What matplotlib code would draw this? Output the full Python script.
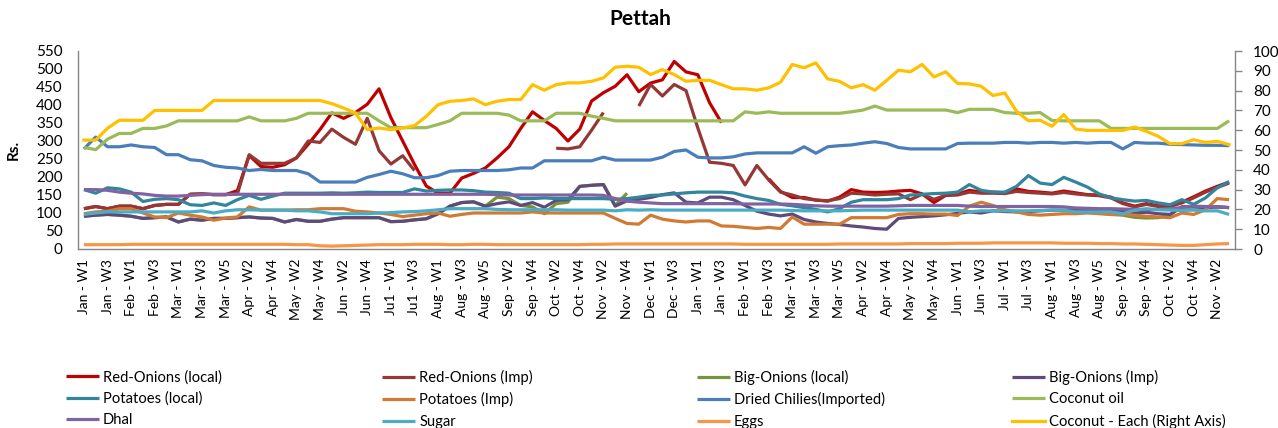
import numpy as np
import matplotlib
matplotlib.use("Agg")
import matplotlib.pyplot as plt

nan = np.nan

# ---------------- categories ----------------
months = ["Jan", "Feb", "Mar", "Apr", "May", "Jun", "Ju1", "Aug", "Sep", "Oct", "Nov", "Dec",
          "Jan", "Feb", "Mar", "Apr", "May", "Jun", "Jul", "Aug", "Sep", "Oct", "Nov"]
weeks_per_month = [4, 4, 5, 4, 4, 5, 4, 5, 4, 4, 5, 4,
                   4, 4, 5, 4, 5, 4, 4, 5, 4, 4, 3]
categories = [f"{m} - W{w}" for m, n in zip(months, weeks_per_month) for w in range(1, n + 1)]

# ---------------- series (Rs., left axis) ----------------
red_onions_local = [112, 118, 112, 119, 119, 112, 121, 124, 124, 152,
                    153, 151, 151, 162, 260, 229, 227, 234, 253, 291,
                    332, 378, 363, 379, 402, 445, 365, 300, 235, 175,
                    155, 155, 197, 210, 225, 253, 284, 335, 381, 357,
                    335, 300, 333, 411, 434, 452, 484, 437, 461, 470,
                    521, 492, 484, 406, 351, nan, nan, nan, 195, 160,
                    143, 143, 136, 133, 144, 165, 158, 157, 158, 161,
                    163, 153, 129, 149, 152, 163, 158, 158, 156, 167,
                    160, 158, 155, 161, 156, 151, 150, 144, 128, 119,
                    126, 120, 120, 130, 145, 161, 174, 186]

red_onions_imp = [112, 118, 112, 119, 119, 112, 121, 124, 124, 152,
                  153, 151, 151, 153, 262, 238, 238, 238, 253, 300,
                  296, 333, 310, 291, 363, 273, 236, 259, 218, nan,
                  nan, nan, nan, nan, nan, nan, nan, nan, nan, nan,
                  280, 278, 284, 330, 379, nan, nan, 397, 457, 425,
                  457, 440, 336, 241, 238, 232, 178, 232, 192, 158,
                  150, 140, 136, 134, 140, 155, 153, 150, 152, 153,
                  137, 152, 138, 149, 150, 158, 155, 155, 154, 160,
                  157, 155, 153, 157, 153, 150, 148, 142, 126, 117,
                  124, 118, 118, 128, 142, 158, 171, 183]

big_onions_imp = [91, 94, 96, 94, 91, 85, 87, 89, 75, 83,
                  80, 85, 85, 87, 89, 86, 85, 75, 82, 77,
                  77, 83, 87, 87, 87, 87, 76, 77, 81, 84,
                  98, 119, 129, 131, 119, 126, 131, 121, 129, 116,
                  135, 137, 174, 177, 179, 119, 134, 138, 143, 151,
                  156, 130, 128, 144, 144, 137, 121, 105, 97, 92,
                  97, 82, 75, 71, 68, 64, 61, 57, 55, 85,
                  88, 90, 92, 95, 99, 103, 100, 106, 104, 103,
                  104, 106, 108, 108, 108, 108, 107, 106, 106, 100,
                  102, 98, 96, 117, 117, 115, 117, 115]

big_onions_local = [91, 94, 96, 94, 91, 85, 87, 89, 75, 83,
                    80, 85, 85, 87, 89, 86, 85, 75, 82, 77,
                    77, 83, 87, 87, 87, 87, 76, 77, 81, 84,
                    98, 119, 129, 131, 119, 144, 140, 121, 117, 98,
                    126, 130, 174, 177, 179, 121, 155, nan, nan, nan,
                    nan, nan, nan, nan, nan, nan, nan, nan, nan, nan,
                    nan, nan, nan, nan, nan, nan, nan, nan, nan, nan,
                    nan, nan, nan, nan, nan, nan, nan, nan, nan, nan,
                    nan, nan, nan, nan, nan, nan, 100, 96, 94, 88,
                    86, 87, 95, 117, 117, 115, 117, 115]

potatoes_local = [165, 155, 170, 167, 158, 132, 138, 140, 137, 123,
                  121, 128, 121, 137, 149, 138, 147, 155, 155, 155,
                  155, 156, 155, 156, 158, 157, 157, 157, 167, 161,
                  163, 164, 164, 162, 158, 157, 155, 140, 140, 142,
                  140, 140, 140, 140, 140, 138, 140, 144, 149, 150,
                  153, 156, 158, 158, 158, 156, 147, 140, 135, 124,
                  120, 115, 110, 103, 112, 130, 137, 137, 137, 140,
                  150, 152, 154, 155, 158, 179, 163, 158, 158, 174,
                  204, 183, 179, 199, 186, 172, 153, 142, 137, 133,
                  135, 128, 123, 137, 124, 142, 170, 187]

potatoes_imp = [98, 103, 105, 112, 112, 100, 89, 87, 100, 94,
                89, 80, 86, 89, 117, 108, 108, 108, 109, 109,
                112, 112, 112, 105, 103, 100, 96, 90, 94, 98,
                100, 91, 96, 100, 100, 100, 100, 100, 103, 100,
                100, 100, 100, 100, 100, 85, 71, 69, 94, 83,
                78, 75, 78, 78, 64, 63, 60, 57, 60, 57,
                89, 69, 69, 69, 69, 87, 87, 87, 87, 96,
                98, 98, 97, 97, 93, 119, 130, 121, 109, 103,
                96, 94, 96, 98, 98, 100, 98, 96, 96, 94,
                91, 89, 87, 100, 96, 109, 140, 137]

dried_chilies = [278, 311, 284, 284, 289, 284, 282, 262, 262, 248,
                 245, 232, 227, 225, 218, 221, 218, 218, 218, 209,
                 186, 186, 186, 186, 199, 207, 216, 209, 198, 198,
                 204, 216, 218, 218, 218, 218, 220, 225, 225, 245,
                 245, 245, 245, 245, 255, 247, 247, 247, 247, 255,
                 271, 275, 255, 253, 253, 256, 264, 267, 267, 267,
                 267, 284, 266, 284, 287, 289, 294, 298, 293, 282,
                 278, 278, 278, 278, 293, 294, 294, 294, 296, 296,
                 294, 296, 296, 294, 296, 294, 296, 296, 278, 296,
                 294, 294, 291, 290, 289, 288, 288, 287]

coconut_oil = [282, 276, 305, 321, 321, 335, 335, 342, 356, 356,
               356, 356, 356, 356, 367, 356, 356, 356, 363, 377,
               377, 377, 377, 377, 377, 356, 337, 337, 337, 337,
               346, 356, 377, 377, 377, 377, 372, 356, 356, 356,
               377, 377, 377, 369, 363, 356, 356, 356, 356, 356,
               356, 356, 356, 356, 356, 356, 381, 377, 381, 377,
               377, 377, 377, 377, 377, 381, 386, 397, 386, 386,
               386, 386, 386, 386, 379, 388, 388, 388, 379, 377,
               377, 379, 357, 356, 356, 356, 356, 335, 335, 335,
               335, 335, 335, 335, 335, 335, 335, 356]

dhal = [165, 165, 163, 158, 155, 153, 149, 147, 147, 149,
        151, 152, 152, 152, 152, 152, 152, 152, 152, 152,
        152, 152, 152, 152, 152, 152, 152, 152, 152, 152,
        152, 152, 152, 152, 152, 151, 150, 150, 150, 150,
        150, 150, 150, 150, 149, 140, 133, 130, 128, 126,
        126, 126, 126, 126, 126, 126, 125, 125, 125, 125,
        124, 122, 120, 119, 119, 119, 119, 119, 119, 120,
        121, 121, 121, 121, 121, 119, 118, 118, 118, 118,
        118, 118, 118, 117, 114, 113, 112, 112, 111, 110,
        109, 110, 112, 115, 119, 118, 117, 115]

sugar = [96, 100, 103, 103, 103, 103, 103, 103, 103, 103,
         106, 100, 106, 109, 109, 108, 108, 108, 106, 106,
         103, 98, 98, 98, 98, 100, 101, 103, 104, 106,
         109, 112, 112, 112, 112, 110, 109, 109, 109, 109,
         109, 108, 108, 108, 108, 106, 109, 108, 109, 108,
         108, 108, 108, 108, 108, 108, 108, 108, 108, 108,
         107, 106, 106, 106, 106, 107, 108, 108, 108, 108,
         108, 108, 108, 108, 108, 103, 106, 106, 106, 106,
         106, 107, 108, 108, 103, 103, 103, 103, 98, 108,
         112, 109, 108, 107, 108, 106, 106, 96]

eggs = [12, 12, 12, 12, 13, 13, 13, 13, 13, 13,
        13, 13, 13, 13, 13, 13, 13, 13, 12, 12,
        9, 8, 9, 10, 11, 12, 12, 12, 13, 13,
        13, 12, 12, 13, 13, 12, 12, 12, 12, 12,
        12, 12, 12, 13, 13, 14, 14, 14, 14, 14,
        14, 14, 14, 14, 14, 14, 13, 13, 13, 13,
        13, 13, 13, 13, 14, 14, 14, 14, 14, 14,
        15, 15, 15, 15, 16, 16, 16, 17, 17, 17,
        17, 17, 17, 16, 16, 16, 15, 15, 14, 14,
        13, 12, 11, 10, 10, 12, 14, 15]

# ---------------- series (right axis) ----------------
coconut_each = [55, 55, 61, 65, 65, 65, 70, 70, 70, 70,
                70, 75, 75, 75, 75, 75, 75, 75, 75, 75,
                75, 73.4, 71.2, 68.7, 60.3, 61.1, 60.3, 61.1, 62.3, 67,
                72.9, 74.6, 75, 75.8, 72.9, 74.6, 75.5, 75.5, 83, 80.2,
                83, 83.9, 83.9, 84.7, 86.4, 91.8, 92.3, 91.8, 88.1, 90.6,
                88.1, 84.7, 85.2, 85.2, 83, 80.9, 80.9, 80.2, 81.4, 84.2,
                93.2, 91.5, 94, 85.9, 84.7, 81.4, 83, 80.2, 85.2, 90.3,
                89.5, 93.2, 86.9, 89.5, 83.6, 83.4, 82.2, 77.5, 78.8, 69.5,
                64.8, 65, 62, 67.9, 60.6, 59.9, 59.9, 59.9, 59.9, 61.6,
                59.4, 56.9, 53.2, 53.2, 55.2, 53.8, 54.4, 52.7]

series_names = ["Red-Onions (local)", "Red-Onions (Imp)", "Big-Onions (local)", "Big-Onions (Imp)",
                "Potatoes (local)", "Potatoes (Imp)", "Dried Chilies(Imported)", "Coconut oil",
                "Dhal", "Sugar", "Eggs", "Coconut - Each (Right Axis)"]
series_colors = ["#C00000", "#953735", "#77933C", "#604A7B",
                 "#31859C", "#D07A33", "#4A7EBB", "#9BBB59",
                 "#8064A2", "#4BACC6", "#F79646", "#FFC000"]
left_series = [red_onions_local, red_onions_imp, big_onions_local, big_onions_imp,
               potatoes_local, potatoes_imp, dried_chilies, coconut_oil,
               dhal, sugar, eggs]

left_ticks = list(range(0, 551, 50))
right_ticks = list(range(0, 101, 10))

FONT = "Lato"
GRAY = "#868686"
W, H = 1278, 428

fig = plt.figure(figsize=(W / 100, H / 100), dpi=100)
ax = fig.add_axes([78 / W, 1 - 249 / H, (1235 - 78) / W, (249 - 51) / H])
ax2 = ax.twinx()

x = np.arange(len(categories))
handles = []
for vals, name, col in zip(left_series, series_names[:11], series_colors[:11]):
    ln, = ax.plot(x, np.array(vals, dtype=float), color=col, lw=2.3,
                  solid_joinstyle="round", solid_capstyle="butt", label=name)
    handles.append(ln)
ln, = ax2.plot(x, np.array(coconut_each, dtype=float), color=series_colors[11], lw=2.3,
               solid_joinstyle="round", label=series_names[11])
handles.append(ln)

ax.set_xlim(-0.5, len(categories) - 0.5)
ax.set_ylim(0, 550)
ax2.set_ylim(0, 100)
ax.set_yticks(left_ticks)
ax2.set_yticks(right_ticks)
ax.set_xticks(x[::2])
ax.set_xticklabels(categories[::2], rotation=90, fontsize=10, family=FONT, color="#000000")
for lab in ax.get_yticklabels():
    lab.set_fontsize(11)
    lab.set_family(FONT)
for lab in ax2.get_yticklabels():
    lab.set_fontsize(11)
    lab.set_family(FONT)

for a in (ax, ax2):
    a.spines["top"].set_visible(False)
ax.spines["right"].set_visible(False)
ax2.spines["left"].set_visible(False)
ax2.spines["bottom"].set_visible(False)
for s in ("left", "bottom"):
    ax.spines[s].set_color(GRAY)
    ax.spines[s].set_linewidth(1.0)
ax2.spines["right"].set_color(GRAY)
ax2.spines["right"].set_linewidth(1.0)
ax.tick_params(axis="y", length=0, pad=11)
ax.tick_params(axis="x", length=0, pad=7)
ax2.tick_params(axis="y", length=5, width=1.0, color=GRAY, direction="out", pad=8)

fig.text(640 / W, 1 - 19 / H, "Pettah", ha="center", va="center",
         fontsize=15, fontweight="bold", family=FONT)
fig.text(14 / W, 1 - 150 / H, "Rs.", ha="center", va="center", rotation=90,
         fontsize=11, fontweight="bold", family=FONT)

# legend: 4 columns, 3 rows (row-wise order)
col_x = [66, 382, 697, 1012]
for c in range(4):
    hs = [handles[r * 4 + c] for r in range(3)]
    fig.legend(handles=hs, labels=[h.get_label() for h in hs], loc="upper left",
               bbox_to_anchor=(col_x[c] / W, 1 - 370 / H), frameon=False,
               prop={"family": FONT, "size": 10.6}, handlelength=2.25, handletextpad=0.27,
               labelspacing=0.5, borderpad=0, borderaxespad=0)

fig.savefig("out.png", dpi=100)
